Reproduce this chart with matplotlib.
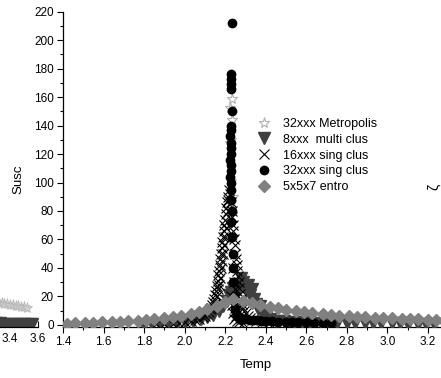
import numpy as np
import matplotlib.pyplot as plt
from matplotlib.ticker import MultipleLocator

plt.rcParams['font.family'] = ['Liberation Sans', 'DejaVu Sans']

# 32xxx Metropolis (open stars, only near Tc)
metro_T = [2.232, 2.223, 2.235, 2.227, 2.224, 2.229, 2.236]
metro_S = [159, 152, 144, 130, 128, 101, 90]

# 8xxx multi clus (down triangles)
multi_T = [1.80, 1.84, 1.88, 1.92, 1.96, 2.00, 2.04, 2.08, 2.11, 2.14, 2.17, 2.19,
           2.21, 2.22, 2.23, 2.24, 2.25, 2.26, 2.27, 2.28, 2.29, 2.30, 2.31, 2.32,
           2.33, 2.34, 2.35, 2.36, 2.37, 2.38, 2.40, 2.42, 2.45, 2.49, 2.54, 2.58,
           2.62, 2.67, 2.71, 2.75, 2.80, 2.84, 2.89, 2.93, 2.97, 3.02, 3.06, 3.10,
           3.15, 3.19, 3.23, 3.28, 3.32]
multi_S = [0.2, 0.4, 0.6, 0.9, 1.3, 1.9, 2.7, 3.8, 5.2, 7.2, 10, 13,
           17, 21, 23, 26, 22, 29, 25, 33, 30, 24, 28, 21,
           25, 18, 15, 11, 13, 8, 5.5, 4, 3, 2.4, 2.0, 1.8,
           1.6, 1.5, 1.4, 1.3, 1.2, 1.2, 1.1, 1.1, 1.0, 1.0, 1.0, 0.9,
           0.9, 0.9, 0.9, 0.8, 0.8]

# 16xxx sing clus (crosses, dense)
sing16_T = [1.86, 1.90, 1.94, 1.97, 2.00, 2.03, 2.05, 2.07, 2.09,
            2.10, 2.11, 2.12, 2.125, 2.13, 2.135, 2.14, 2.145, 2.15, 2.155, 2.16,
            2.163, 2.166, 2.17, 2.173, 2.176, 2.18, 2.183, 2.186, 2.19, 2.193,
            2.196, 2.20, 2.203, 2.206, 2.21, 2.213, 2.216, 2.22,
            2.15, 2.16, 2.17, 2.18, 2.19, 2.20, 2.21, 2.165, 2.175, 2.185, 2.195,
            2.205, 2.215,
            2.225, 2.228, 2.232, 2.235, 2.238, 2.24, 2.243, 2.246, 2.25, 2.253,
            2.256, 2.26, 2.263, 2.266, 2.27, 2.275, 2.28, 2.285, 2.29, 2.295,
            2.30, 2.31, 2.32, 2.33, 2.35, 2.38, 2.41, 2.45, 2.50,
            2.23, 2.235, 2.24, 2.245, 2.25, 2.255, 2.26, 2.265, 2.27, 2.28,
            2.29, 2.24, 2.245, 2.25]
sing16_S = [0.3, 0.6, 0.9, 1.3, 1.8, 2.5, 3.2, 4.2, 5.2,
            6, 7.5, 9, 11, 12, 14, 16, 18, 21, 24, 27,
            31, 35, 38, 42, 46, 50, 54, 58, 62, 66,
            70, 74, 78, 82, 86, 90, 88, 95,
            15, 20, 28, 40, 50, 62, 72, 25, 33, 45, 56,
            68, 80,
            92, 86, 80, 76, 70, 66, 60, 56, 50, 46,
            42, 38, 34, 30, 26, 22, 18, 15, 12, 10,
            8, 6, 4.5, 3.5, 2.5, 1.8, 1.3, 1.0, 0.8,
            20, 14, 8, 4, 12, 6, 3, 10, 2, 5,
            1.5, 40, 30, 25]

# 32xxx sing clus (filled circles)
sing32_T = [2.232, 2.229, 2.227, 2.228, 2.230, 2.235, 2.226, 2.230, 2.224, 2.228,
            2.226, 2.229, 2.225, 2.228, 2.226, 2.224, 2.228, 2.226, 2.230, 2.232,
            2.228, 2.234, 2.236, 2.238, 2.240, 2.245, 2.250, 2.255, 2.26, 2.27,
            2.28, 2.29, 2.30, 2.32, 2.34, 2.36, 2.38, 2.40, 2.43, 2.46, 2.50,
            2.53, 2.56, 2.60, 2.64, 2.68, 2.72]
sing32_S = [212, 176, 173, 169, 166, 150, 140, 137, 133, 128,
            124, 120, 116, 112, 108, 104, 100, 95, 88, 80,
            72, 62, 50, 40, 30, 20, 12, 8, 6, 5,
            4.5, 4.2, 4, 3.7, 3.4, 3.1, 2.9, 2.7, 2.5, 2.3, 2.1,
            2.0, 1.9, 1.7, 1.6, 1.5, 1.4]

# 5x5x7 entro (diamonds)
entro_T = [1.42, 1.46, 1.51, 1.55, 1.59, 1.64, 1.68, 1.72, 1.77, 1.81, 1.85, 1.90,
           1.94, 1.98, 2.03, 2.07, 2.11, 2.16, 2.20, 2.24, 2.29, 2.33, 2.37, 2.42,
           2.46, 2.50, 2.55, 2.59, 2.63, 2.68, 2.72, 2.76, 2.81, 2.85, 2.89, 2.94,
           2.98, 3.02, 3.07, 3.11, 3.15, 3.20, 3.24, 3.28, 3.33]
entro_S = [0.8, 1.0, 1.2, 1.4, 1.7, 2.0, 2.3, 2.6, 3.0, 3.4, 3.9, 4.6,
           5.4, 6.5, 7.8, 9.3, 11.0, 13.5, 16.0, 18.0, 17.0, 15.5, 14.0, 12.8,
           11.6, 10.6, 9.7, 8.9, 8.2, 7.6, 7.0, 6.5, 6.1, 5.7, 5.4, 5.1,
           4.8, 4.5, 4.3, 4.1, 3.9, 3.7, 3.5, 3.3, 3.1]

# neighbouring panel on the left (only its right end is visible)
left_T_star = [3.30, 3.32, 3.34, 3.36, 3.38, 3.40, 3.42, 3.44, 3.46, 3.48, 3.50, 3.52]
left_S_star = [15.8, 15.5, 15.2, 14.9, 14.5, 14.2, 13.9, 13.5, 13.2, 12.8, 12.5, 12.1]
left_T_tri = [3.30, 3.33, 3.36, 3.39, 3.42, 3.45, 3.48, 3.51, 3.54, 3.56]
left_S_tri = [1.0, 1.0, 0.9, 0.9, 0.9, 0.8, 0.8, 0.8, 0.8, 0.8]

fig = plt.figure(figsize=(4.41, 3.78), dpi=100)

# left neighbour panel (drawn first, transparent, so it does not hide the main y labels)
ax2 = fig.add_axes([-74 / 441, 51 / 378, 112 / 441, 315.3 / 378])
ax2.patch.set_visible(False)
ax2.plot(left_T_star, left_S_star, ls='none', marker='*', ms=8, mfc='#d0d0d0',
         mec='#b8b8b8', mew=0.6)
ax2.plot(left_T_tri, left_S_tri, ls='none', marker='v', ms=8, color='#404040')
ax2.set_xlim(2.8, 3.6)
ax2.set_ylim(-1.5, 220)
ax2.set_xticks([3.4, 3.6])
ax2.set_xticklabels(['3.4', '3.6'])
ax2.xaxis.set_minor_locator(MultipleLocator(0.1))
ax2.tick_params(which='major', direction='in', length=4, width=0.8, labelsize=8.5, pad=4)
ax2.tick_params(which='minor', direction='in', length=2.2, width=0.8)
ax2.set_yticks([])
for s in ['top', 'right', 'left']:
    ax2.spines[s].set_visible(False)
ax2.spines['bottom'].set_linewidth(0.9)

ax = fig.add_axes([63 / 441, 51 / 378, 385.3 / 441, 315.3 / 378])
ax.patch.set_visible(False)

ax.plot(metro_T, metro_S, ls='none', marker='*', ms=8, mfc='white', mec='#b0b0b0',
        mew=0.8, label='32xxx Metropolis', zorder=2)
ax.plot(multi_T, multi_S, ls='none', marker='v', ms=8, color='#404040',
        label='8xxx  multi clus', zorder=3)
ax.plot(sing16_T, sing16_S, ls='none', marker='x', ms=7, color='black', mew=0.8,
        label='16xxx sing clus', zorder=4)
ax.plot(sing32_T, sing32_S, ls='none', marker='o', ms=6, color='black',
        label='32xxx sing clus', zorder=5)
ax.plot(entro_T, entro_S, ls='none', marker='D', ms=6.5, color='#808080',
        label='5x5x7 entro', zorder=6)

ax.set_xlim(1.4, 3.3)
ax.set_ylim(-1.5, 220)
ax.xaxis.set_minor_locator(MultipleLocator(0.1))
ax.yaxis.set_major_locator(MultipleLocator(20))
ax.yaxis.set_minor_locator(MultipleLocator(10))
ax.set_xticks(np.round(np.arange(1.4, 3.21, 0.2), 1))
ax.tick_params(which='major', length=4, width=0.8, labelsize=8.5, pad=2.5)
ax.tick_params(which='minor', length=2.2, width=0.8)
for s in ['top', 'right']:
    ax.spines[s].set_visible(False)
ax.spines['left'].set_linewidth(0.9)
ax.spines['bottom'].set_linewidth(0.9)

ax.set_xlabel('Temp', fontsize=9.5)
ax.xaxis.set_label_coords(0.501, -0.1)
ax.set_ylabel('Susc', fontsize=9.5)
ax.yaxis.set_label_coords(-0.101, 0.47)

ax.legend(loc='upper left', bbox_to_anchor=(258 / 441, 1 - 118 / 378),
          bbox_transform=fig.transFigure, frameon=False, fontsize=9,
          borderpad=0, borderaxespad=0, labelspacing=0.3, handlelength=1.0,
          handletextpad=1.0, numpoints=1)

# cut-off label of the panel on the right
fig.text(434 / 441, 1 - 187 / 378, 'ζ', rotation=90, ha='center', va='center', fontsize=10)

fig.savefig('out.png', dpi=100)
